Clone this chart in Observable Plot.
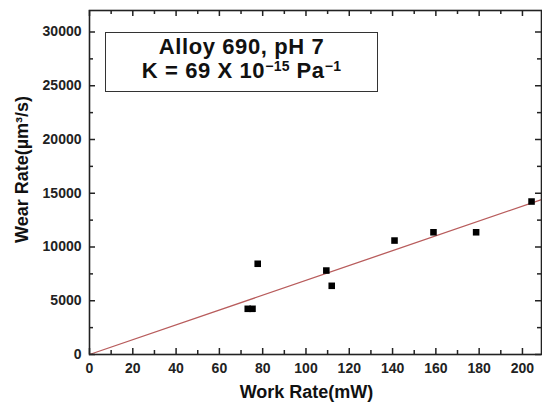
<!DOCTYPE html>
<html><head><meta charset="utf-8">
<script src="https://cdn.jsdelivr.net/npm/d3@7"></script>
<script src="https://cdn.jsdelivr.net/npm/@observablehq/plot@0.6"></script>
<style>
body{margin:0;background:#fff;}
#wrap{position:relative;width:542px;height:405px;font-family:"Liberation Sans",Arial,sans-serif;}
#wrap svg{position:absolute;left:0;top:0;}
#legend{position:absolute;left:105px;top:32px;width:273px;height:60px;box-sizing:border-box;border:1.5px solid #333;background:#fff;text-align:center;font-weight:bold;font-size:22px;line-height:24px;letter-spacing:0.6px;color:#111;padding-top:2px;z-index:2;}
#legend sup{font-size:14px;line-height:0;vertical-align:0.5em;letter-spacing:0.3px;}
</style></head><body>
<div id="wrap"><div id="legend"></div></div>
<script>
// data
const workRate = [73.1, 75.3, 77.7, 109.4, 111.9, 140.9, 158.9, 178.6, 204.2];
const wearRate = [4250, 4250, 8440, 7810, 6390, 10600, 11370, 11370, 14230];
const K = 69; // fitted slope, µm³/s per mW (69 × 10⁻¹⁵ Pa⁻¹)
const xMajor = [0, 20, 40, 60, 80, 100, 120, 140, 160, 180, 200];
const xMinor = [10, 30, 50, 70, 90, 110, 130, 150, 170, 190];
const yMajor = [0, 5000, 10000, 15000, 20000, 25000, 30000];
const yMinor = [2500, 7500, 12500, 17500, 22500, 27500];
const xDomain = [0, 208.8];
const yDomain = [0, 32000];
const legendTitle = "Alloy 690, pH 7";
const legendK = ["K = 69 X 10", "\u221215", " Pa", "\u22121"];
const xLabel = "Work Rate(mW)";
const yLabel = "Wear Rate(\u00b5m\u00b3/s)";

const pts = workRate.map((x, i) => ({x, y: wearRate[i]}));
const fit = xDomain.map(x => ({x, y: K * x}));

const W = 542, H = 405, mL = 89, mR = 1, mT = 10, mB = 51;
const ih = H - mT - mB, iw = W - mL - mR;
const ink = "#222";

const plot = Plot.plot({
  width: W, height: H,
  marginLeft: mL, marginRight: mR, marginTop: mT, marginBottom: mB,
  style: {fontFamily: '"Liberation Sans", Arial, sans-serif', fontWeight: "bold", fontSize: "14px", color: ink, background: "transparent", overflow: "visible"},
  x: {domain: xDomain},
  y: {domain: yDomain},
  marks: [
    Plot.line(fit, {x: "x", y: "y", stroke: "#b85c5c", strokeWidth: 1.3}),
    Plot.dot(pts, {x: "x", y: "y", symbol: "square", r: 3.7, fill: "#000", stroke: "none"}),
    // inward ticks
    Plot.tickX(xMajor, {x: d => d, insetTop: ih - 6, stroke: ink, strokeWidth: 1.5}),
    Plot.tickX(xMinor, {x: d => d, insetTop: ih - 4, stroke: ink, strokeWidth: 1.5}),
    Plot.tickX(xMajor, {x: d => d, insetBottom: ih - 6, stroke: ink, strokeWidth: 1.5}),
    Plot.tickX(xMinor, {x: d => d, insetBottom: ih - 4, stroke: ink, strokeWidth: 1.5}),
    Plot.tickY(yMajor, {y: d => d, insetRight: iw - 6, stroke: ink, strokeWidth: 1.5}),
    Plot.tickY(yMinor, {y: d => d, insetRight: iw - 4, stroke: ink, strokeWidth: 1.5}),
    Plot.tickY(yMajor, {y: d => d, insetLeft: iw - 6, stroke: ink, strokeWidth: 1.5}),
    Plot.tickY(yMinor, {y: d => d, insetLeft: iw - 4, stroke: ink, strokeWidth: 1.5}),
    Plot.frame({stroke: ink, strokeWidth: 1.6}),
    Plot.axisX(xMajor, {tickSize: 0, tickPadding: 9, label: null, tickFormat: d => String(d)}),
    Plot.axisY(yMajor, {tickSize: 0, tickPadding: 8, label: null, tickFormat: d => String(d)}),
    Plot.text([xLabel], {text: d => d, frameAnchor: "bottom", textAnchor: "middle", dx: -9, dy: 38, fontSize: 18, fontWeight: "bold", fill: "#111", lineAnchor: "middle"}),
    Plot.text([yLabel], {text: d => d, frameAnchor: "left", textAnchor: "middle", rotate: -90, dx: -67, dy: -13, fontSize: 18, fontWeight: "bold", fill: "#111", lineAnchor: "middle"})
  ]
});
document.getElementById("wrap").prepend(plot);

const lg = document.getElementById("legend");
const l1 = document.createElement("div"); l1.textContent = legendTitle; lg.appendChild(l1);
const l2 = document.createElement("div");
l2.appendChild(document.createTextNode(legendK[0]));
const s1 = document.createElement("sup"); s1.textContent = legendK[1]; l2.appendChild(s1);
l2.appendChild(document.createTextNode(legendK[2]));
const s2 = document.createElement("sup"); s2.textContent = legendK[3]; l2.appendChild(s2);
lg.appendChild(l2);
</script>
</body></html>
